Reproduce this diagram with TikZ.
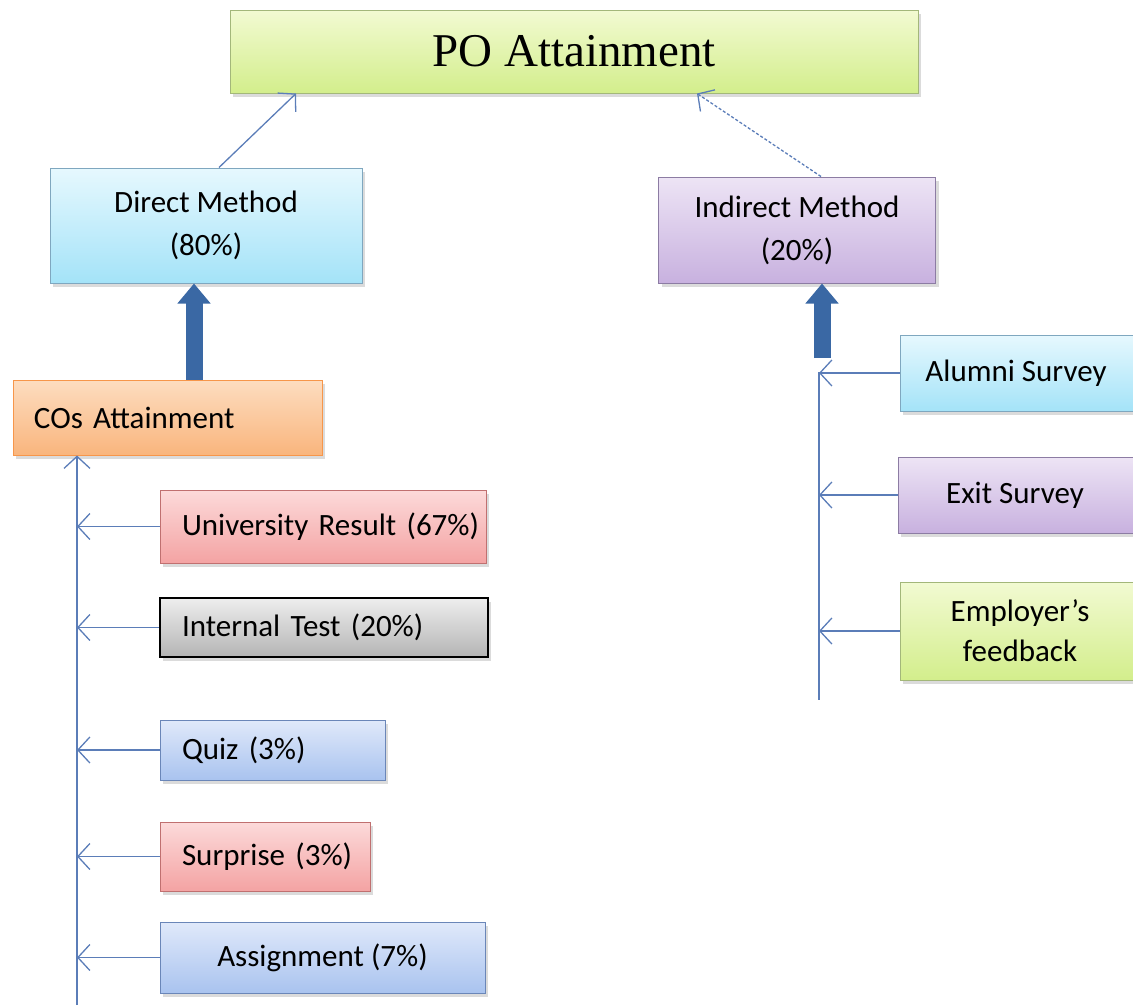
\documentclass[tikz,border=0pt]{standalone}
\usepackage{fontspec}
\setmainfont{Carlito}
\newfontfamily\titlefont{Liberation Serif}
\usetikzlibrary{arrows.meta,shadows}
\definecolor{conn}{HTML}{5B7DB8}
\definecolor{thickc}{HTML}{3A68A4}
\definecolor{gT}{HTML}{F2FAD2}\definecolor{gB}{HTML}{D3EE8C}\definecolor{gD}{HTML}{A3B77A}
\definecolor{bT}{HTML}{E6F8FE}\definecolor{bB}{HTML}{A4E3F8}\definecolor{bD}{HTML}{7FA7BF}
\definecolor{pT}{HTML}{EDE4F5}\definecolor{pB}{HTML}{C8B1DF}\definecolor{pD}{HTML}{8C7CA3}
\definecolor{oT}{HTML}{FDDDC0}\definecolor{oB}{HTML}{F9B57D}\definecolor{oD}{HTML}{F7964A}
\definecolor{rT}{HTML}{FCDADA}\definecolor{rB}{HTML}{F4A3A3}\definecolor{rD}{HTML}{C07070}
\definecolor{kT}{HTML}{EEEEEE}\definecolor{kB}{HTML}{B4B4B4}
\definecolor{wT}{HTML}{E0E9FA}\definecolor{wB}{HTML}{A9C3EF}\definecolor{wD}{HTML}{6A86B8}
\tikzset{
  box/.style={draw, line width=1pt, inner sep=0pt, font=\fontsize{31}{43}\selectfont,
    drop shadow={shadow xshift=3pt, shadow yshift=-4pt, opacity=0.35, fill=gray!80}},
  leftbox/.style={box, align=left, text width=#1},
  greenbox/.style={top color=gT, bottom color=gB, draw=gD},
  bluebox/.style={top color=bT, bottom color=bB, draw=bD},
  purplebox/.style={top color=pT, bottom color=pB, draw=pD},
  orangebox/.style={top color=oT, bottom color=oB, draw=oD},
  redbox/.style={top color=rT, bottom color=rB, draw=rD},
  graybox/.style={top color=kT, bottom color=kB, draw=black, line width=2pt},
  periwinkle/.style={top color=wT, bottom color=wB, draw=wD},
  conn/.style={draw=conn, line width=1.3pt, -{Straight Barb[length=12pt,width=26pt]}},
  fat/.style={draw=thickc, line width=17pt, -{Triangle[length=20pt,width=32pt]}},
}
\begin{document}
\begin{tikzpicture}[x=1pt,y=-1pt]
\useasboundingbox (0,0) rectangle (1133,1005);
\node[box, greenbox, minimum width=688pt, minimum height=83pt, font=\titlefont\fontsize{47}{50}\selectfont] (po) at (574,51.5) {PO Attainment};
\node[box, bluebox, minimum width=312pt, minimum height=115pt, align=center] (direct) at (206,225.5) {Direct Method\\(80\%)};
\node[box, purplebox, minimum width=277pt, minimum height=106pt, align=center] (indirect) at (797,230) {Indirect Method\\(20\%)};
\node[leftbox=267pt, orangebox, minimum width=309pt, minimum height=75pt] (cos) at (167.5,417.5) {\mbox{COs Attainment}};
\node[leftbox=282pt, redbox, minimum width=326pt, minimum height=73pt] (univ) at (323,526.5) {\mbox{University Result (67\%)}};
\node[leftbox=284pt, graybox, minimum width=328pt, minimum height=59pt] (internal) at (324,627.5) {\mbox{Internal Test (20\%)}};
\node[leftbox=181pt, periwinkle, minimum width=225pt, minimum height=60pt] (quiz) at (272.5,750) {\mbox{Quiz (3\%)}};
\node[leftbox=166pt, redbox, minimum width=210pt, minimum height=69pt] (surprise) at (265,856.5) {\mbox{Surprise (3\%)}};
\node[box, periwinkle, minimum width=325pt, minimum height=71pt] (assign) at (322.5,957.5) {Assignment (7\%)};
\node[box, bluebox, minimum width=240pt, minimum height=76pt] (alumni) at (1020,373) {\hspace*{-8pt}Alumni Survey};
\node[box, purplebox, minimum width=242pt, minimum height=76pt] (exit) at (1019,495) {\hspace*{-8pt}Exit Survey};
\node[box, greenbox, minimum width=240pt, minimum height=98pt, align=center, font=\fontsize{31}{40}\selectfont] (employer) at (1020,631) {Employer’s\\feedback};
% top connectors
\draw[conn] ([xshift=13pt]direct.north) -- ([xshift=-278pt]po.south);
\draw[conn, densely dashed] ([xshift=24pt]indirect.north) -- ([xshift=123pt]po.south);
% thick arrows
\coordinate (ta) at (194,0);
\draw[fat] (ta |- cos.north) -- (ta |- direct.south);
\coordinate (tb) at (822,358);
\draw[fat] (tb) -- (tb |- indirect.south);
% left bus
\coordinate (lb) at (77,1005);
\draw[conn] (lb) -- (lb |- cos.south);
\foreach \n in {univ,internal,quiz,surprise,assign}
  \draw[conn] (\n.west) -- (\n.west -| lb);
% right bus
\coordinate (rt) at (819,372);
\coordinate (rb) at (819,700);
\draw[draw=conn, line width=1.3pt] (rt) -- (rb);
\foreach \n in {alumni,exit,employer}
  \draw[conn] (\n.west) -- (\n.west -| rb);
\end{tikzpicture}
\end{document}
